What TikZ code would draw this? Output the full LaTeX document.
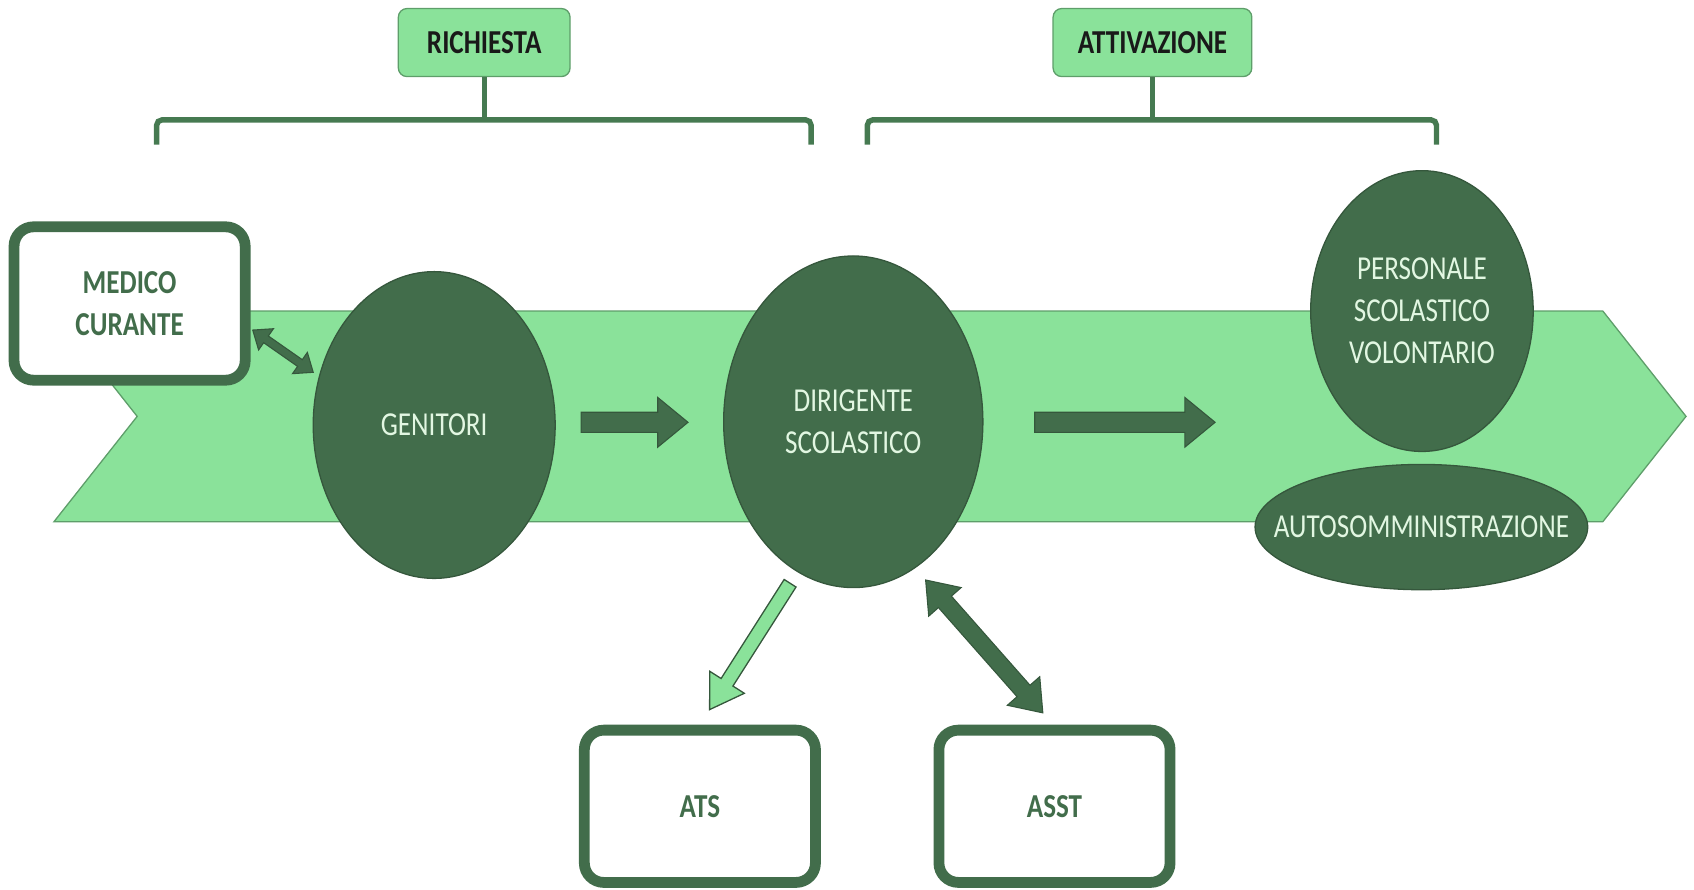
\documentclass[tikz,border=0pt]{standalone}
\usepackage{fontspec}
\setmainfont{Carlito}[FakeStretch=0.81]
\usetikzlibrary{calc,shapes.geometric}
\definecolor{lg}{HTML}{8AE29A}
\definecolor{dg}{HTML}{426D4B}
\definecolor{dgline}{HTML}{35573C}
\definecolor{txtl}{HTML}{E2F7E2}
\definecolor{chevline}{HTML}{5E9E6A}
\definecolor{brk}{HTML}{467A51}
\newcommand\fs{\fontsize{31}{39}\selectfont}
\newcommand\blockarr[6]{%
  \coordinate (ba-h) at ($(#3)!#6!(#2)$);
  \draw[#1] ($(#2)!#4!90:(#3)$) -- ($(ba-h)!#4!90:(#3)$) -- ($(ba-h)!#5!90:(#3)$) -- (#3)
    -- ($(ba-h)!#5!-90:(#3)$) -- ($(ba-h)!#4!-90:(#3)$) -- ($(#2)!#4!-90:(#3)$) -- cycle;}
\newcommand\dblarr[6]{%
  \coordinate (da-h1) at ($(#2)!#6!(#3)$);
  \coordinate (da-h2) at ($(#3)!#6!(#2)$);
  \draw[#1] (#2) -- ($(da-h1)!#5!90:(#3)$) -- ($(da-h1)!#4!90:(#3)$) -- ($(da-h2)!#4!90:(#3)$)
    -- ($(da-h2)!#5!90:(#3)$) -- (#3) -- ($(da-h2)!#5!-90:(#3)$) -- ($(da-h2)!#4!-90:(#3)$)
    -- ($(da-h1)!#4!-90:(#3)$) -- ($(da-h1)!#5!-90:(#3)$) -- cycle;}
\begin{document}
\begin{tikzpicture}[x=1pt,y=-1pt,
  oval/.style={ellipse, fill=dg, draw=dgline, line width=1.2pt, inner sep=0pt,
    text=txtl, font=\fs, align=center},
  ovaltext/.style={inner sep=0pt, text=txtl, font=\fs, align=center},
  wbox/.style={rectangle, rounded corners=18pt, draw=dg, line width=10pt, fill=white,
    text=dg, font=\fs\bfseries, align=center, inner sep=0pt},
  tbox/.style={rectangle, rounded corners=8pt, fill=lg, draw=chevline, line width=1.2pt,
    text=black!90, font=\fs\bfseries, inner sep=0pt},
  bracket/.style={draw=brk, line width=5pt, rounded corners=5pt},
  darrow/.style={fill=dg, draw=dgline, line width=1pt},
  larrow/.style={fill=lg, draw=dgline, line width=1.2pt, line join=miter}]
\useasboundingbox (0,0) rectangle (1568.4,823.1);

% chevron band
\draw[fill=lg, draw=chevline, line width=1.2pt]
  (50,288) -- (1484,288) -- (1561,385.5) -- (1484,483) -- (50,483) -- (127,385.5) -- cycle;

% header boxes
\node[tbox, minimum width=159pt, minimum height=63pt] (rich) at (448.3,39.4) {RICHIESTA};
\node[tbox, minimum width=184pt, minimum height=63pt] (attiv) at (1067,39.4) {ATTIVAZIONE};

% brackets
\coordinate (b1l) at (145,134);
\coordinate (b1r) at (751,134);
\coordinate (b2l) at (803,134);
\coordinate (b2r) at (1330,134);
\draw[bracket] (b1l) -- (145,111) -- (751,111) -- (b1r);
\draw[bracket] (b2l) -- (803,111) -- (1330,111) -- (b2r);
\draw[draw=brk, line width=5pt] (rich.south) -- (rich.south |- 0,111);
\draw[draw=brk, line width=5pt] (attiv.south) -- (attiv.south |- 0,111);

% ovals
\node[oval, minimum width=224pt, minimum height=284pt] (gen) at (402,393.5) {GENITORI};
\node[oval, minimum width=240pt, minimum height=307pt] (dir) at (790,390.5) {DIRIGENTE\\SCOLASTICO};
\node[oval, minimum width=206pt, minimum height=260pt] (pers) at (1316.5,288) {PERSONALE\\SCOLASTICO\\VOLONTARIO};
\node[oval, minimum width=308pt, minimum height=116pt] (auto) at (1316,488) {};
\node[ovaltext] (autot) at (auto.center) {AUTOSOMMINISTRAZIONE};

% white boxes
\node[wbox, minimum width=214pt, minimum height=142pt] (med) at (120,281) {MEDICO\\CURANTE};
\node[wbox, minimum width=214pt, minimum height=141pt] (ats) at (648,746.5) {ATS};
\node[wbox, minimum width=214pt, minimum height=141pt] (asst) at (976.3,746.5) {ASST};

% arrows
\coordinate (a1s) at (538,391);
\coordinate (a1e) at (637,391);
\coordinate (a2s) at (958,391);
\coordinate (a2e) at (1125,391);
\coordinate (m1) at (234,305.6);
\coordinate (m2) at (290,344.7);
\coordinate (l1) at (731.5,540);
\coordinate (l2) at (657,657);
\coordinate (d1) at (857,537);
\coordinate (d2) at (965.5,660);
\blockarr{darrow}{a1s}{a1e}{9.3pt}{23pt}{28pt}
\blockarr{darrow}{a2s}{a2e}{9.3pt}{23pt}{28pt}
\dblarr{darrow}{m1}{m2}{3.8pt}{12pt}{15pt}
\blockarr{larrow}{l1}{l2}{6.5pt}{19pt}{30pt}
\dblarr{darrow}{d1}{d2}{8pt}{20pt}{27pt}
\end{tikzpicture}
\end{document}
